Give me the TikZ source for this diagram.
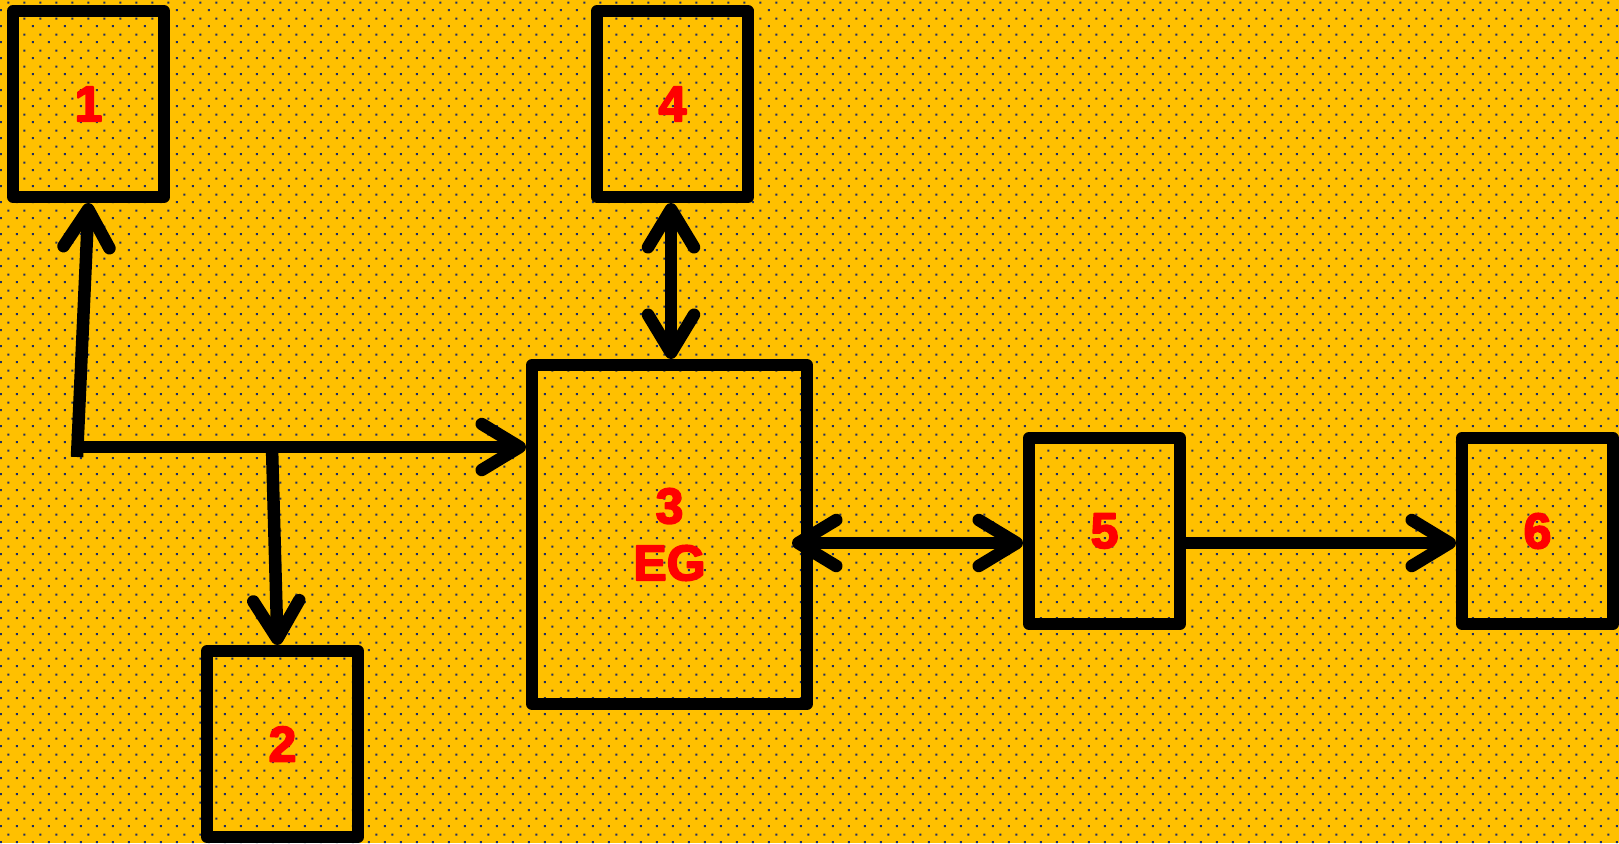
\documentclass[tikz,border=0pt]{standalone}
\usepackage{fontspec}
\newfontfamily\labfont{Liberation Sans Bold}[FakeBold=3.5]
\usetikzlibrary{arrows.meta,patterns.meta,calc}
\definecolor{amber}{HTML}{FFC000}
\definecolor{dotnavy}{HTML}{1F2F66}
\definecolor{labred}{HTML}{FF0000}
\tikzdeclarepattern{name=bgdots, type=uncolored,
  bounding box={(0pt,0pt) and (16pt,16pt)}, tile size={(16pt,16pt)},
  code={\fill (1pt,1pt) rectangle (3pt,3pt); \fill (9pt,9pt) rectangle (11pt,11pt);}}
\begin{document}
\begin{tikzpicture}[x=1pt,y=-1pt,
  box/.style={draw=black, line width=12pt, line join=round, inner sep=0pt,
    minimum width=151pt, minimum height=186pt,
    font=\labfont\fontsize{50}{57}\selectfont, text=labred, align=center},
  conn/.style={draw=black, line width=12.5pt},
  onearrow/.style={-{Straight Barb[length=38pt,width=46pt,round]}},
  twoarrow/.style={{Straight Barb[length=38pt,width=46pt,round]}-{Straight Barb[length=38pt,width=46pt,round]}}]
\useasboundingbox (0,0) rectangle (1619,843);
\fill[amber] (0,0) rectangle (1619,843);
\fill[pattern=bgdots, pattern color=dotnavy] (0,0) rectangle (1619,843);

\node[box] (b1) at (88.5,104) {1};
\node[box] (b4) at (672.5,104) {4};
\node[box, minimum width=275pt, minimum height=339pt] (b3) at (669.5,534.5) {3\\EG};
\node[box] (b2) at (282.5,744) {2};
\node[box] (b5) at (1104.5,531) {5};
\node[box] (b6) at (1537.5,531) {6};

\coordinate (j1) at (77,457);
\coordinate (j0) at (78,447);
\coordinate (j2) at (272,447);
\coordinate (j4) at (671,203);

\draw[conn, onearrow] (j1) -- (b1.south);
\draw[conn, onearrow] (j0) -- (j0 -| b3.west);
\draw[conn, onearrow] (j2) -- ([xshift=-5pt]b2.north);
\draw[conn, twoarrow] (j4) -- (j4 |- b3.north);
\draw[conn, twoarrow] ([shift={(-21pt,-8.5pt)}]b3.east) -- ([yshift=-12pt]b5.west);
\draw[conn, onearrow] ([yshift=-12pt]b5.east) -- ([yshift=-12pt]b6.west);
\end{tikzpicture}
\end{document}
